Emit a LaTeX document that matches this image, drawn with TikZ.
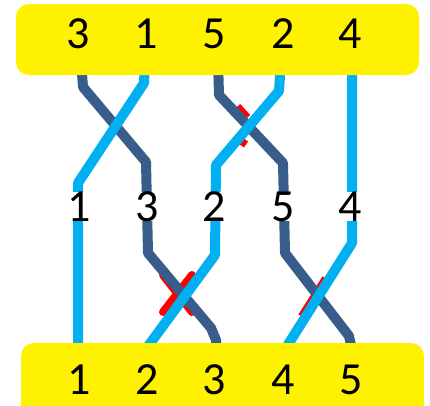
\documentclass[tikz,border=0pt]{standalone}
\usepackage{fontspec}
\setmainfont{Carlito}
\definecolor{dkblue}{RGB}{56,93,138}
\definecolor{ltblue}{RGB}{0,176,240}
\begin{document}
\begin{tikzpicture}[x=1pt,y=-1pt,
  strand/.style={line width=10pt, line join=round},
  darkstrand/.style={strand, draw=dkblue},
  lightstrand/.style={strand, draw=ltblue},
  redmark/.style={draw=red, line width=8pt, line cap=round},
  bar/.style={fill=yellow, rounded corners=13pt},
  num/.style={font=\fontsize{46}{46}\selectfont, anchor=base, inner sep=0pt},
  midnum/.style={num, fill=white, text height=29pt, text depth=0pt}]
\path[use as bounding box] (0,0) rectangle (430,405);
\clip (0,0) rectangle (430,405);
% red marks under the crossings
\draw[redmark] (163,275) -- (192,312);
\draw[redmark] (192,275) -- (163,312);
\draw[redmark, line width=6pt, line cap=butt] (325,278) -- (301,316);
\draw[redmark, line width=6pt, line cap=butt] (238,106) -- (248,117);
\draw[redmark, line width=5pt, line cap=butt] (246,140) -- (242,146);
% dark strands
\draw[darkstrand] (81,60) -- (83,87) -- (146,162) -- (148,253) -- (211,328) -- (216,340) -- (216,360);
\draw[darkstrand] (218,60) -- (219,95) -- (283,163) -- (285,253) -- (349,336) -- (351,345) -- (351,360);
% light strands
\draw[lightstrand] (145,60) -- (144,83) -- (78,183) -- (78,360);
\draw[lightstrand] (281,60) -- (279,91) -- (216,165) -- (215,255) -- (146,349);
\draw[lightstrand] (352,60) -- (352,243) -- (289,343) -- (285,350);
% bars
\path[bar] (16,4) rectangle (419,75);
\path[bar] (21,343) rectangle (424,430);
% top labels
\node[num] (t3) at (78,48) {3};
\node[num] (t1) at (146,48) {1};
\node[num] (t5) at (214,48) {5};
\node[num] (t2) at (283,48) {2};
\node[num] (t4) at (350,48) {4};
% middle labels
\node[midnum] (m1) at (79,221) {1};
\node[midnum] (m3) at (147,221) {3};
\node[midnum] (m2) at (214,221) {2};
\node[midnum] (m5) at (283,221) {5};
\node[midnum] (m4) at (350,221) {4};
% bottom labels
\node[num] (b1) at (79,394) {1};
\node[num] (b2) at (147,394) {2};
\node[num] (b3) at (214,394) {3};
\node[num] (b4) at (283,394) {4};
\node[num] (b5) at (351,394) {5};
\end{tikzpicture}
\end{document}
